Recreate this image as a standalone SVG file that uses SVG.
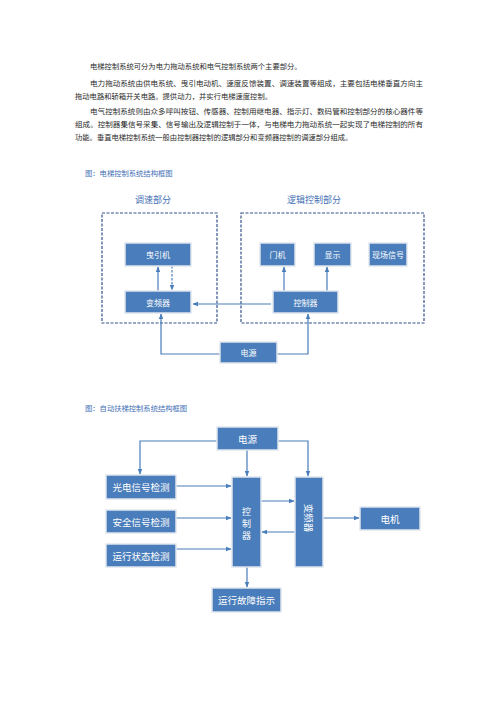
<svg xmlns="http://www.w3.org/2000/svg" width="496" height="702" viewBox="0 0 496 702">
<style>
.p{font-family:"Noto Sans CJK SC","Noto Sans",sans-serif;font-size:7.3px;fill:#2b2b2b}
.cap{font-family:"Noto Sans CJK SC","Noto Sans",sans-serif;font-size:7.3px;fill:#3f6fb5}
.hd{font-family:"Noto Sans CJK SC","Noto Sans",sans-serif;font-size:9px;fill:#3f6fb5}
.n rect{fill:#4a7dbb;stroke:#dfe5ee;stroke-width:1.5}
.n text{font-family:"Noto Sans CJK SC","Noto Sans",sans-serif;fill:#fff;text-anchor:middle;dominant-baseline:central}
.s text{font-size:8px}
.b text{font-size:9.5px}
.b text.v{font-size:9px}
.dash{fill:none;stroke:#34548a;stroke-width:1.2;stroke-dasharray:3 1.5}
.c path{fill:none;stroke:#4a7dbb;stroke-width:1.2}
</style>
<defs>
<marker id="ah" viewBox="0 0 10 10" refX="9" refY="5" markerWidth="5" markerHeight="5" orient="auto">
<path d="M0,1 L10,5 L0,9 z" fill="#4a7dbb"/>
</marker>
</defs>
<rect width="496" height="702" fill="#fff"/>
<g id="text">
<text class="p" x="90" y="69">电梯控制系统可分为电力拖动系统和电气控制系统两个主要部分。</text>
<text class="p" x="90" y="86" textLength="333" lengthAdjust="spacingAndGlyphs">电力拖动系统由供电系统、曳引电动机、速度反馈装置、调速装置等组成，主要包括电梯垂直方向主</text>
<text class="p" x="75" y="99">拖动电路和轿箱开关电路。提供动力，并实行电梯速度控制。</text>
<text class="p" x="90" y="114" textLength="333" lengthAdjust="spacingAndGlyphs">电气控制系统则由众多呼叫按钮、传感器、控制用继电器、指示灯、数码管和控制部分的核心器件等</text>
<text class="p" x="75" y="127" textLength="348" lengthAdjust="spacingAndGlyphs">组成。控制器集信号采集、信号输出及逻辑控制于一体，与电梯电力拖动系统一起实现了电梯控制的所有</text>
<text class="p" x="75" y="140">功能。垂直电梯控制系统一般由控制器控制的逻辑部分和变频器控制的调速部分组成。</text>
<text class="cap" x="85" y="176">图：电梯控制系统结构框图</text>
<text class="cap" x="85" y="411">图：自动扶梯控制系统结构框图</text>
<text class="hd" x="153" y="203" text-anchor="middle">调速部分</text>
<text class="hd" x="314" y="203" text-anchor="middle">逻辑控制部分</text>
</g>
<rect class="dash" x="102" y="213" width="115" height="110"/>
<rect class="dash" x="241" y="213" width="183" height="110"/>
<g class="c" id="connectors">
<path d="M158,291 V267" marker-end="url(#ah)"/>
<path d="M172,266 V290" stroke-dasharray="2.5 1.5" marker-end="url(#ah)"/>
<path d="M271,304 H193" marker-end="url(#ah)"/>
<path d="M284,291 V267" marker-end="url(#ah)"/>
<path d="M327,291 V267" marker-end="url(#ah)"/>
<path d="M220,354 H161 V314" marker-end="url(#ah)"/>
<path d="M277,354 H308 V314" marker-end="url(#ah)"/>
<path d="M217,441 H140 V474" marker-end="url(#ah)"/>
<path d="M247,450 V476" marker-end="url(#ah)"/>
<path d="M278,441 H308 V476" marker-end="url(#ah)"/>
<path d="M176,486 H231" marker-end="url(#ah)"/>
<path d="M176,518 H231" marker-end="url(#ah)"/>
<path d="M176,549 H231" marker-end="url(#ah)"/>
<path d="M261,501 H294" marker-end="url(#ah)"/>
<path d="M295,532 H262" marker-end="url(#ah)"/>
<path d="M323,518 H359" marker-end="url(#ah)"/>
<path d="M247,567 V587" marker-end="url(#ah)"/>
</g>
<g id="n1" class="n s"><rect x="125" y="243" width="66" height="23"/><text x="158" y="254.5">曳引机</text></g>
<g id="n2" class="n s"><rect x="125" y="291" width="66" height="22"/><text x="158" y="302">变频器</text></g>
<g id="n3" class="n s"><rect x="260" y="243" width="35" height="23"/><text x="277.5" y="254.5">门机</text></g>
<g id="n4" class="n s"><rect x="314" y="243" width="37" height="23"/><text x="332.5" y="254.5">显示</text></g>
<g id="n5" class="n s"><rect x="369" y="243" width="38" height="23"/><text x="388" y="254.5">现场信号</text></g>
<g id="n6" class="n s"><rect x="273" y="291" width="65" height="22"/><text x="305.5" y="302">控制器</text></g>
<g id="n7" class="n s"><rect x="220" y="342" width="57" height="21"/><text x="248.5" y="352.5">电源</text></g>
<g id="m1" class="n b"><rect x="217" y="427" width="61" height="23"/><text x="247.5" y="438.5">电源</text></g>
<g id="m2" class="n b"><rect x="106" y="475" width="70" height="24"/><text x="141" y="487">光电信号检测</text></g>
<g id="m3" class="n b"><rect x="106" y="510" width="70" height="23"/><text x="141" y="521.5">安全信号检测</text></g>
<g id="m4" class="n b"><rect x="106" y="544" width="70" height="23"/><text x="141" y="555.5">运行状态检测</text></g>
<g id="m5" class="n b"><rect x="232" y="477" width="29" height="90"/><text class="v" x="246.5" y="511">控</text><text class="v" x="246.5" y="523">制</text><text class="v" x="246.5" y="535">器</text></g>
<g id="m6" class="n b"><rect x="295" y="477" width="28" height="90"/><text x="309" y="518" transform="rotate(90 309 518)">变频器</text></g>
<g id="m7" class="n b"><rect x="360" y="507" width="60" height="23"/><text x="390" y="518.5">电机</text></g>
<g id="m8" class="n b"><rect x="212" y="588" width="69" height="24"/><text x="246.5" y="600">运行故障指示</text></g>
</svg>
